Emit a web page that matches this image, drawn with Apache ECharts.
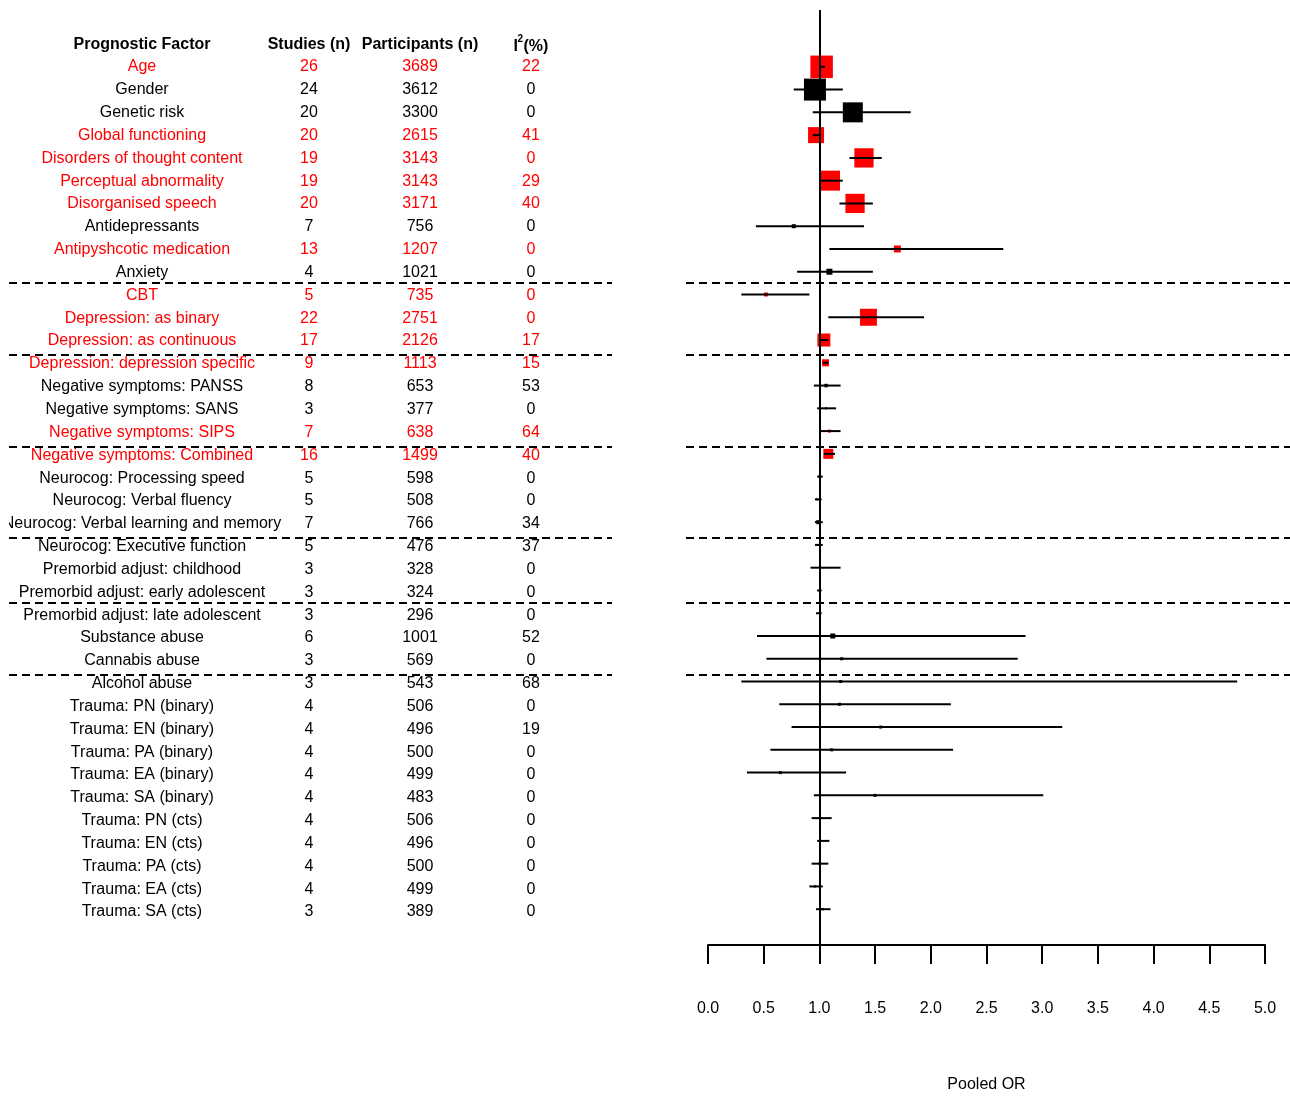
<!DOCTYPE html>
<html><head><meta charset="utf-8">
<script src="https://cdn.jsdelivr.net/npm/echarts@6/dist/echarts.min.js"></script>
<style>html,body{margin:0;padding:0;background:#fff}#c{width:1290px;height:1098px}</style>
</head><body><div id="c"></div>
<script>
// ---------- data ----------
const factors = [
  "Age","Gender","Genetic risk","Global functioning","Disorders of thought content",
  "Perceptual abnormality","Disorganised speech","Antidepressants","Antipyshcotic medication","Anxiety",
  "CBT","Depression: as binary","Depression: as continuous","Depression: depression specific",
  "Negative symptoms: PANSS","Negative symptoms: SANS","Negative symptoms: SIPS","Negative symptoms: Combined",
  "Neurocog: Processing speed","Neurocog: Verbal fluency","Neurocog: Verbal learning and memory",
  "Neurocog: Executive function","Premorbid adjust: childhood","Premorbid adjust: early adolescent",
  "Premorbid adjust: late adolescent","Substance abuse","Cannabis abuse","Alcohol abuse",
  "Trauma: PN (binary)","Trauma: EN (binary)","Trauma: PA (binary)","Trauma: EA (binary)","Trauma: SA (binary)",
  "Trauma: PN (cts)","Trauma: EN (cts)","Trauma: PA (cts)","Trauma: EA (cts)","Trauma: SA (cts)"
];
const studies = [26,24,20,20,19,19,20,7,13,4,5,22,17,9,8,3,7,16,5,5,7,5,3,3,3,6,3,3,4,4,4,4,4,4,4,4,4,3];
const participants = [3689,3612,3300,2615,3143,3143,3171,756,1207,1021,735,2751,2126,1113,653,377,638,1499,598,508,766,476,328,324,296,1001,569,543,506,496,500,499,483,506,496,500,499,389];
const i2 = [22,0,0,41,0,29,40,0,0,0,0,0,17,15,53,0,64,40,0,0,34,37,0,0,0,52,0,68,0,19,0,0,0,0,0,0,0,0];
const significant = [1,0,0,1,1,1,1,0,1,0,1,1,1,1,0,0,1,1,0,0,0,0,0,0,0,0,0,0,0,0,0,0,0,0,0,0,0,0];
const pooledOR = [1.02,0.96,1.30,0.97,1.40,1.095,1.32,0.77,1.70,1.09,0.52,1.44,1.04,1.055,1.06,1.06,1.09,1.08,1.00,0.98,0.99,0.99,1.04,1.00,0.99,1.12,1.20,1.19,1.18,1.55,1.11,0.65,1.50,1.01,1.005,1.00,0.96,1.03];
const ciLow  = [1.00,0.77,0.94,0.94,1.27,1.00,1.18,0.43,1.09,0.80,0.30,1.08,1.00,1.03,0.95,0.98,1.00,1.04,0.98,0.96,0.96,0.96,0.92,0.98,0.97,0.44,0.525,0.30,0.64,0.75,0.56,0.35,0.95,0.93,0.98,0.93,0.91,0.97];
const ciHigh = [1.05,1.21,1.82,1.00,1.56,1.21,1.48,1.40,2.65,1.48,0.91,1.94,1.08,1.08,1.19,1.15,1.19,1.14,1.03,1.02,1.03,1.03,1.19,1.02,1.02,2.85,2.78,4.75,2.18,3.18,2.20,1.24,3.01,1.11,1.09,1.08,1.03,1.10];
const weights = [9.0,8.8,8.0,6.4,7.7,8.0,7.7,1.6,2.8,2.4,1.6,6.8,5.2,2.8,1.4,0.8,1.2,4.0,0.8,0.8,1.6,0.8,0.6,0.6,0.6,2.0,1.2,1.2,1.2,1.2,1.2,1.2,1.2,0.9,0.9,0.9,0.9,0.9];
const headers = ["Prognostic Factor","Studies (n)","Participants (n)"];
const groupBreaks = [9.46, 12.6, 16.64, 20.62, 23.47, 26.62];
const orTicks = {min: 0, max: 5, interval: 0.5};

// ---------- layout / style ----------
const RED = '#ff0000';
const FONT = '"Liberation Sans", Arial, sans-serif';
const COL_X = [142, 309, 420, 531];
const BOX_SCALE = 2.5;
const GRID_TOP = 10, GRID_BOTTOM = 150;
const ROW0_Y = 67, ROW_H = 22.84;
const yMin = -(ROW0_Y - GRID_TOP) / ROW_H;
const yMax = (1098 - GRID_BOTTOM - ROW0_Y) / ROW_H;
const dash = {type: [8, 5], color: '#000', width: 2};

const rows = factors.map((f, i) => [i]);
const forestData = factors.map((f, i) => [i, pooledOR[i], ciLow[i], ciHigh[i], weights[i], significant[i]]);

function yAxisCfg(idx) {
  return {gridIndex: idx, type: 'value', inverse: true, min: yMin, max: yMax, show: false};
}

function renderTable(params, api) {
  const i = api.value(0);
  const color = significant[i] ? RED : '#000';
  const vals = [factors[i], studies[i], participants[i], i2[i]];
  return {type: 'group', children: vals.map((t, k) => {
    const p = api.coord([COL_X[k], i]);
    return {type: 'text', style: {text: String(t), x: p[0], y: p[1], align: 'center', verticalAlign: 'middle', fill: color, font: '16px ' + FONT}};
  })};
}

function renderHeader(params, api) {
  const children = headers.map((t, k) => {
    const p = api.coord([COL_X[k], -1]);
    return {type: 'text', style: {text: t, x: p[0], y: p[1], align: 'center', verticalAlign: 'middle', fill: '#000', font: 'bold 16px ' + FONT}};
  });
  const p = api.coord([COL_X[3], -1]);
  const cy = p[1] + 2;
  children.push({type: 'text', style: {text: 'I', x: p[0] - 13, y: cy, align: 'right', verticalAlign: 'middle', fill: '#000', font: 'bold 16px ' + FONT}});
  children.push({type: 'text', style: {text: '2', x: p[0] - 13.5, y: cy - 7, align: 'left', verticalAlign: 'middle', fill: '#000', font: 'bold 10px ' + FONT}});
  children.push({type: 'text', style: {text: '(%)', x: p[0] - 7.5, y: cy, align: 'left', verticalAlign: 'middle', fill: '#000', font: 'bold 16px ' + FONT}});
  return {type: 'group', children};
}

function renderForest(params, api) {
  const r = api.value(0), est = api.value(1), lo = api.value(2), hi = api.value(3), w = api.value(4), sig = api.value(5);
  const pE = api.coord([est, r]), pL = api.coord([lo, r]), pH = api.coord([hi, r]);
  const s = w * BOX_SCALE;
  return {type: 'group', children: [
    {type: 'rect', shape: {x: pE[0] - s / 2, y: pE[1] - s / 2, width: s, height: s}, style: {fill: sig ? RED : '#000'}},
    {type: 'line', shape: {x1: pL[0], y1: pL[1], x2: pH[0], y2: pH[1]}, style: {stroke: '#000', lineWidth: 2}}
  ]};
}

const chart = echarts.init(document.getElementById('c'), null, {renderer: 'canvas'});
chart.setOption({
  animation: false,
  backgroundColor: '#fff',
  grid: [
    {left: 9, width: 603, top: GRID_TOP, bottom: GRID_BOTTOM},
    {left: 686, right: 0, top: GRID_TOP, bottom: GRID_BOTTOM},
    {left: 708, right: 25, top: GRID_TOP, bottom: GRID_BOTTOM}
  ],
  xAxis: [
    {gridIndex: 0, type: 'value', min: 9, max: 612, show: false},
    {gridIndex: 1, type: 'value', min: 0, max: 1, show: false},
    {gridIndex: 2, type: 'value', min: orTicks.min, max: orTicks.max, interval: orTicks.interval,
     axisLine: {show: true, onZero: false, lineStyle: {color: '#000', width: 2}},
     axisTick: {show: true, length: 19, lineStyle: {color: '#000', width: 2}},
     axisLabel: {margin: 56, color: '#000', fontSize: 16, fontFamily: FONT, formatter: v => v.toFixed(1)},
     splitLine: {show: false},
     name: 'Pooled OR', nameLocation: 'middle', nameGap: 132,
     nameTextStyle: {color: '#000', fontSize: 16, fontFamily: FONT}}
  ],
  yAxis: [yAxisCfg(0), yAxisCfg(1), yAxisCfg(2)],
  series: [
    {type: 'custom', xAxisIndex: 0, yAxisIndex: 0, data: rows, renderItem: renderTable, clip: true, silent: true,
     markLine: {silent: true, symbol: 'none', label: {show: false}, lineStyle: dash,
                data: groupBreaks.map(v => ({yAxis: v}))}},
    {type: 'custom', xAxisIndex: 0, yAxisIndex: 0, data: [[0]], renderItem: renderHeader, silent: true},
    {type: 'custom', xAxisIndex: 1, yAxisIndex: 1, data: [[0.5, 0]], renderItem: () => null, silent: true,
     markLine: {silent: true, symbol: 'none', label: {show: false}, lineStyle: dash,
                data: groupBreaks.map(v => ({yAxis: v}))}},
    {type: 'custom', xAxisIndex: 2, yAxisIndex: 2, data: forestData, renderItem: renderForest, silent: true,
     markLine: {silent: true, symbol: 'none', label: {show: false}, lineStyle: {type: 'solid', color: '#000', width: 2},
                data: [{xAxis: 1}]}}
  ]
});
</script></body></html>
